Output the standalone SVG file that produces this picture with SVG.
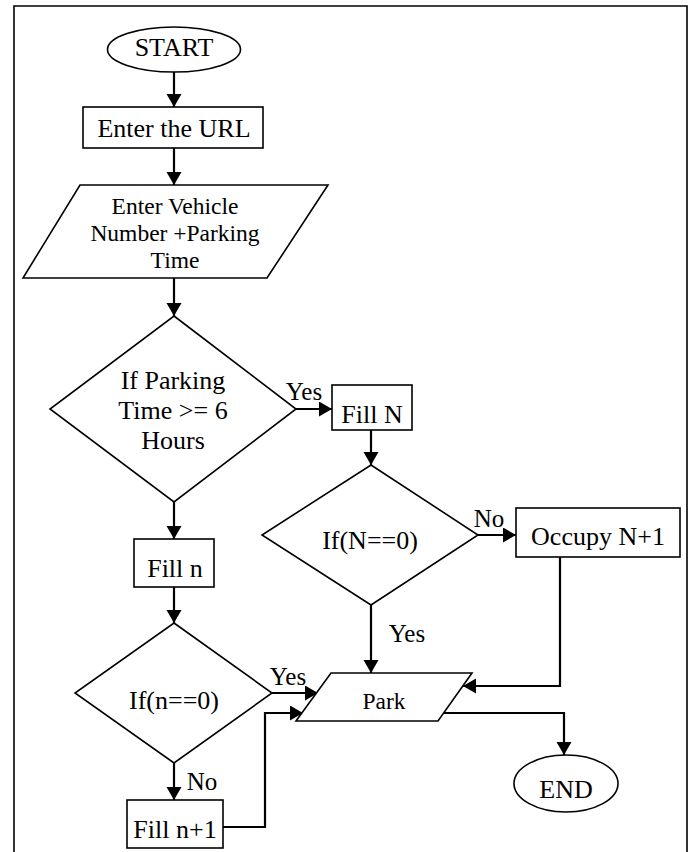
<svg xmlns="http://www.w3.org/2000/svg" width="693" height="852" viewBox="0 0 693 852">
<defs>
<marker id="ah" markerUnits="userSpaceOnUse" markerWidth="14" markerHeight="16" refX="13" refY="7.5" orient="auto">
<path d="M0,0 L13,7.5 L0,15 z" fill="#000"/>
</marker>
<style>
.s{fill:#fff;stroke:#000;stroke-width:1.6}
.c{fill:none;stroke:#000;stroke-width:2.2}
.a{marker-end:url(#ah)}
text{font-family:"Liberation Serif","Times New Roman",serif;font-size:26px;fill:#000;text-anchor:middle}
.sm{font-size:23.5px}
.lb{font-size:25px}
</style>
</defs>
<rect width="693" height="852" fill="#fff"/>
<path d="M14,852 V6 H687 V852" fill="none" stroke="#000" stroke-width="1.6"/>
<g id="connectors">
<path class="c a" d="M174,72 V107"/>
<path class="c a" d="M174,148 V185"/>
<path class="c a" d="M174,278 V316"/>
<path class="c a" d="M296,409 H332"/>
<path class="c a" d="M174,502 V539"/>
<path class="c a" d="M371,430 V465"/>
<path class="c a" d="M478,535 H516"/>
<path class="c a" d="M174,587 V623"/>
<path class="c a" d="M371,605 V673"/>
<path class="c a" d="M560,557 V686 H463"/>
<path class="c a" d="M272,693 H318"/>
<path class="c a" d="M174,763 V800"/>
<path class="c a" d="M223,827 H265 V713 H303"/>
<path class="c a" d="M443,713 H564 V755"/>
<text class="lb" x="304" y="400">Yes</text>
<text class="lb" x="489" y="527">No</text>
<text class="lb" x="407" y="642">Yes</text>
<text class="lb" x="288" y="685">Yes</text>
<text class="lb" x="202" y="790">No</text>
</g>
<g id="start">
<ellipse class="s" cx="174" cy="49.5" rx="66.5" ry="22.5"/>
<text x="174" y="56">START</text>
</g>
<g id="url">
<rect class="s" x="83" y="107" width="180" height="41"/>
<text x="174" y="137">Enter the URL</text>
</g>
<g id="input">
<polygon class="s" points="80,185 328,185 267,278 23,278"/>
<text class="sm" x="175" y="214">Enter Vehicle</text>
<text class="sm" x="175" y="241">Number +Parking</text>
<text class="sm" x="175" y="268">Time</text>
</g>
<g id="decision-time">
<polygon class="s" points="174,316 296,409 174,502 50,409"/>
<text x="173" y="389">If Parking</text>
<text x="173" y="419">Time &gt;= 6</text>
<text x="173" y="449">Hours</text>
</g>
<g id="fill-N">
<rect class="s" x="332" y="385" width="80" height="45"/>
<text x="372" y="423">Fill N</text>
</g>
<g id="decision-N">
<polygon class="s" points="371,465 478,535 371,605 262,535"/>
<text x="370" y="549">If(N==0)</text>
</g>
<g id="occupy">
<rect class="s" x="516" y="508" width="164" height="49"/>
<text x="598" y="545">Occupy N+1</text>
</g>
<g id="fill-n">
<rect class="s" x="134" y="539" width="80" height="48"/>
<text x="175" y="577">Fill n</text>
</g>
<g id="decision-n">
<polygon class="s" points="174,623 272,693 174,763 75,693"/>
<text x="174" y="709">If(n==0)</text>
</g>
<g id="fill-n1">
<rect class="s" x="127" y="800" width="96" height="48"/>
<text x="175" y="838">Fill n+1</text>
</g>
<g id="park">
<polygon class="s" points="331,673 472,673 438,721 296,721"/>
<text class="sm" x="384" y="709">Park</text>
</g>
<g id="end">
<ellipse class="s" cx="566" cy="783.5" rx="52" ry="28.5"/>
<text x="566" y="798">END</text>
</g>
</svg>
